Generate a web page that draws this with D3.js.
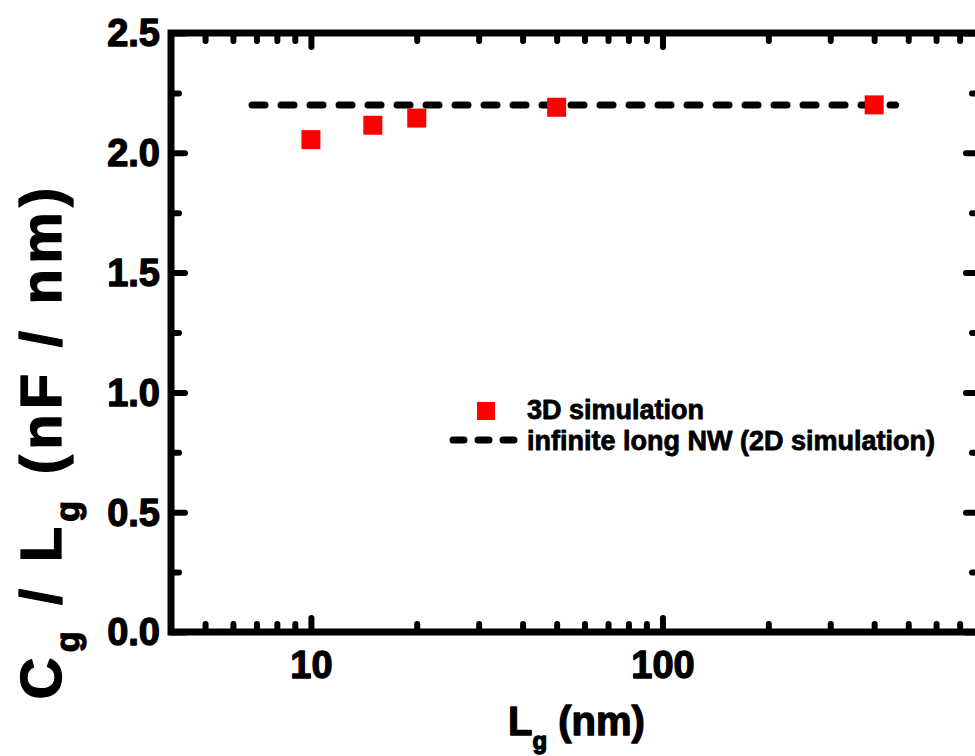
<!DOCTYPE html>
<html>
<head>
<meta charset="utf-8">
<script src="https://cdn.jsdelivr.net/npm/d3@7"></script>
<style>
  body { margin: 0; background: #fff; }
  text { font-family: "Liberation Sans", Arial, sans-serif; font-weight: bold; fill: #000;
         stroke: #000; stroke-width: 1.3px; stroke-linejoin: round; }
</style>
</head>
<body>
<svg id="chart" width="975" height="756"></svg>
<script>
// Gate capacitance per unit length versus gate length
const gateLengths = [10, 15, 20, 50, 400];          // L_g (nm)
const capPerLength3D = [2.055, 2.115, 2.145, 2.19, 2.20]; // C_g / L_g, 3D simulation
const wireSpan = [6.8, 460];                          // extent of the 2D reference line
const capPerLength2D = 2.2;                           // infinite long NW (2D simulation)

const xDomain = [4, 800];
const yDomain = [0, 2.5];
const xMajorTicks = [10, 100];
const xTickLabels = ["10", "100"];
const yMajorTicks = [0, 0.5, 1.0, 1.5, 2.0, 2.5];
const yTickLabels = ["0.0", "0.5", "1.0", "1.5", "2.0", "2.5"];
const legendLabels = ["3D simulation", "infinite long NW (2D simulation)"];

const svg = d3.select("#chart");
const plotLeft = 171, plotRight = 980, plotTop = 33, plotBottom = 632;

const x = d3.scaleLog().domain(xDomain).range([plotLeft, plotRight]);
const y = d3.scaleLinear().domain(yDomain).range([plotBottom, plotTop]);

const majorLen = 14, minorLen = 8;
const tickStyle = sel => sel.selectAll("line")
  .attr("stroke", "#000").attr("stroke-width", 6).attr("stroke-linecap", "round");

const xMinor = x.ticks().filter(v => !xMajorTicks.includes(v) && v > xDomain[0] && v < xDomain[1]);
const yMinor = d3.range(0.25, 2.5, 0.5);

function addAxis(axisFn, scale, values, len, transform) {
  const g = svg.append("g").attr("transform", transform)
    .call(axisFn(scale).tickValues(values).tickSize(len).tickFormat(""));
  g.select(".domain").remove();
  tickStyle(g);
  return g;
}

// bottom and top axes (ticks pointing into the plot)
addAxis(d3.axisBottom, x, xMinor, -minorLen, `translate(0,${plotBottom})`);
const xb = addAxis(d3.axisBottom, x, xMajorTicks, -majorLen, `translate(0,${plotBottom})`);
addAxis(d3.axisTop, x, xMinor, -minorLen, `translate(0,${plotTop})`);
addAxis(d3.axisTop, x, xMajorTicks, -majorLen, `translate(0,${plotTop})`);
// left and right axes
addAxis(d3.axisLeft, y, yMinor, -minorLen, `translate(${plotLeft},0)`);
const yl = addAxis(d3.axisLeft, y, yMajorTicks, -majorLen, `translate(${plotLeft},0)`);
addAxis(d3.axisRight, y, yMinor, -minorLen, `translate(${plotRight},0)`);
addAxis(d3.axisRight, y, yMajorTicks, -majorLen, `translate(${plotRight},0)`);

// tick labels
xb.selectAll(".tick").append("text")
  .attr("y", 46).attr("text-anchor", "middle")
  .style("font-size", "38px")
  .text((d, i) => xTickLabels[i]);
yl.selectAll(".tick").append("text")
  .attr("x", -11).attr("dy", "0.34em").attr("text-anchor", "end")
  .style("font-size", "38px")
  .text((d, i) => yTickLabels[i]);

// plot frame
svg.append("rect")
  .attr("x", plotLeft).attr("y", plotTop)
  .attr("width", plotRight - plotLeft).attr("height", plotBottom - plotTop)
  .attr("fill", "none").attr("stroke", "#000").attr("stroke-width", 7);

// 2D reference line
svg.append("line")
  .attr("x1", x(wireSpan[0])).attr("x2", x(wireSpan[1]))
  .attr("y1", y(capPerLength2D)).attr("y2", y(capPerLength2D))
  .attr("stroke", "#000").attr("stroke-width", 7)
  .attr("stroke-linecap", "round").attr("stroke-dasharray", "13,16");

// 3D simulation markers
const ms = 19;
svg.append("g").selectAll("rect")
  .data(gateLengths.map((g, i) => [g, capPerLength3D[i]]))
  .join("rect")
  .attr("x", d => x(d[0]) - ms / 2).attr("y", d => y(d[1]) - ms / 2)
  .attr("width", ms).attr("height", ms).attr("fill", "#ff0000");

// legend
const lg = svg.append("g");
lg.append("rect").attr("x", 477).attr("y", 402).attr("width", 18).attr("height", 18).attr("fill", "#ff0000");
lg.append("text").attr("x", 527).attr("y", 419).style("font-size", "27px").style("stroke-width", "0.8px")
  .text(legendLabels[0]);
lg.append("line").attr("x1", 453).attr("x2", 516).attr("y1", 440).attr("y2", 440)
  .attr("stroke", "#000").attr("stroke-width", 7)
  .attr("stroke-linecap", "round").attr("stroke-dasharray", "11,14");
lg.append("text").attr("x", 527).attr("y", 450).style("font-size", "27px").style("stroke-width", "0.8px")
  .text(legendLabels[1]);

// x axis title
const xt = svg.append("text").attr("x", 508).attr("y", 735).style("font-size", "40px");
xt.append("tspan").text("L");
xt.append("tspan").attr("dy", 14).style("font-size", "24px").text("g");
xt.append("tspan").attr("dy", -14).text(" (nm)");

// y axis title
const yt = svg.append("text")
  .attr("transform", "translate(61,441) rotate(-90)")
  .attr("text-anchor", "middle").style("font-size", "58px");
yt.append("tspan").text("C");
yt.append("tspan").attr("dy", 18).style("font-size", "34px").text("g");
yt.append("tspan").attr("dy", -18).text(" / L");
yt.append("tspan").attr("dy", 18).style("font-size", "34px").text("g");
yt.append("tspan").attr("dy", -18).text(" (nF / nm)");
// spread the title along the axis to its full span
const titleLen = yt.node().getBBox().width;
const nChars = yt.text().length;
yt.style("letter-spacing", ((517 - titleLen) / nChars) + "px");
</script>
</body>
</html>
